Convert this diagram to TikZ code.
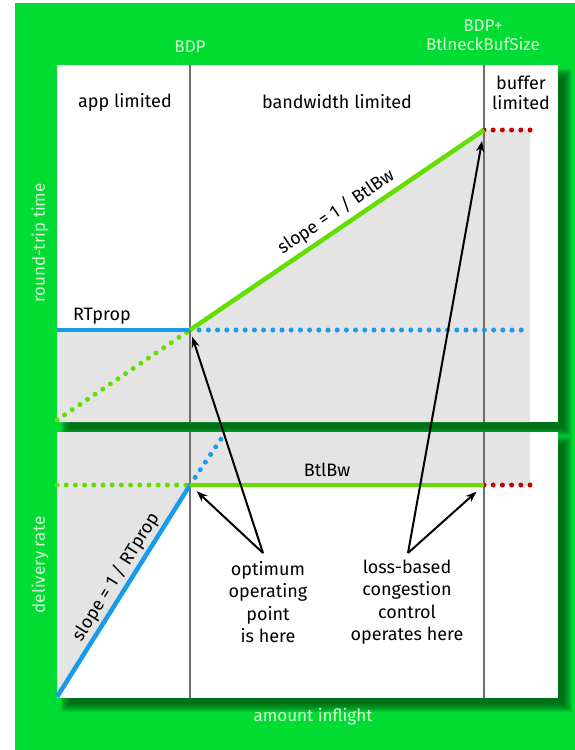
\documentclass[tikz,border=0pt]{standalone}
\usepackage{fontspec}
\setmainfont{Fira Sans}
\usetikzlibrary{arrows.meta}
\definecolor{bggreen}{RGB}{0,220,50}
\definecolor{shadowgreen}{RGB}{0,80,18}
\definecolor{panelgray}{RGB}{228,228,228}
\definecolor{curvegreen}{RGB}{100,222,0}
\definecolor{curveblue}{RGB}{25,155,235}
\definecolor{curvered}{RGB}{200,0,0}
\definecolor{axistext}{RGB}{215,248,215}
\definecolor{sepgray}{RGB}{110,110,110}

\begin{document}
\begin{tikzpicture}[x=1pt,y=-1pt,
  solidcurve/.style={line width=4.5pt},
  dotcurve/.style={line width=5pt, line cap=round, dash pattern=on 0pt off 9.2pt},
  separator/.style={sepgray, line width=1.6pt},
  pointer/.style={black, line width=2pt, -{Stealth[length=11pt,width=8pt]}},
  axislabel/.style={text=axistext, font=\fontsize{17}{19}\selectfont},
  plotlabel/.style={text=black, font=\fontsize{18}{20}\selectfont, align=center, inner sep=0pt},
]
\useasboundingbox (0,0) rectangle (575,750);
\fill[white] (0,0) rectangle (575,750);
\fill[bggreen] (15,3) rectangle (575,750);

% soft drop shadows under both panels
\foreach \r in {-4,...,5} {
  \fill[shadowgreen, opacity=0.13] ({66-\r},{74-\r}) rectangle ({567+\r},{431+\r});
  \fill[shadowgreen, opacity=0.13] ({66-\r},{441-\r}) rectangle ({567+\r},{707+\r});
}

% panels
\fill[white] (57,65) rectangle (558,422);
\fill[white] (57,432) rectangle (558,698);

% key points of the two curves
\coordinate (rtpL)   at (57,330);
\coordinate (opt1)   at (190,330);
\coordinate (buf1)   at (484,130);
\coordinate (redE1)  at (530,130);
\coordinate (blueE1) at (525,330);
\coordinate (orig1)  at (57,420);
\coordinate (bwL)    at (57,485);
\coordinate (opt2)   at (190,485);
\coordinate (buf2)   at (484,485);
\coordinate (redE2)  at (530,485);
\coordinate (orig2)  at (57,697);
\coordinate (blueE2) at (221,439);

% shaded regions
\fill[panelgray] (rtpL) -- (opt1) -- (buf1) -- (redE1) -- (530,422) -- (57,422) -- cycle;
\fill[panelgray] (57,432) -- (530,432) -- (redE2) -- (opt2) -- (orig2) -- cycle;

% region separators
\draw[separator] (190,65) -- (190,422);
\draw[separator] (484,65) -- (484,422);
\draw[separator] (190,432) -- (190,698);
\draw[separator] (484,432) -- (484,698);

% round-trip time curve
\draw[dotcurve, curvegreen] (orig1) -- (opt1);
\draw[dotcurve, curveblue] (opt1) -- (blueE1);
\draw[dotcurve, curvered] (buf1) -- (redE1);
\draw[solidcurve, curveblue] (rtpL) -- (opt1);
\draw[solidcurve, curvegreen] (opt1) -- (buf1);

% delivery rate curve
\draw[dotcurve, curvegreen] (bwL) -- (opt2);
\draw[dotcurve, curveblue] (opt2) -- (blueE2);
\draw[dotcurve, curvered] (buf2) -- (redE2);
\draw[solidcurve, curveblue] (orig2) -- (opt2);
\draw[solidcurve, curvegreen] (opt2) -- (buf2);

% labels on the green background
\node[axislabel] (bdp) at (190,47) {BDP};
\node[axislabel, align=center] (bdpbuf) at (483,35) {BDP+\\BtlneckBufSize};
\node[axislabel, rotate=90] (rttaxis) at (40,243) {round-trip time};
\node[axislabel, rotate=90] (rateaxis) at (40,565) {delivery rate};
\node[axislabel] (xaxis) at (313,717) {amount inflight};

% region and curve labels
\node[plotlabel] (applim) at (125,102) {app limited};
\node[plotlabel] (bwlim) at (337,102) {bandwidth limited};
\node[plotlabel] (buflim) at (521,93) {buffer\\limited};
\node[plotlabel] (rtprop) at (102,316) {RTprop};
\node[plotlabel] (btlbw) at (327,470) {BtlBw};
\node[plotlabel, rotate=34] (slopebw) at (336,212) {slope = 1 / BtlBw};
\node[plotlabel, rotate=58] (slopert) at (116,577) {slope = 1 / RTprop};

% callouts
\node[plotlabel, font=\fontsize{18}{22.5}\selectfont] (optlabel) at (268,602) {optimum\\operating\\point\\is here};
\node[plotlabel, font=\fontsize{18}{22.5}\selectfont] (losslabel) at (407,602) {loss-based\\congestion\\control\\operates here};
\coordinate (optApex) at (263,553);
\coordinate (lossApex) at (408,553);
\draw[pointer, shorten >=7pt] (optApex) -- (opt1);
\draw[pointer, shorten >=9pt] (optApex) -- (opt2);
\draw[pointer, shorten >=11pt] (lossApex) -- (buf1);
\draw[pointer, shorten >=10pt] (lossApex) -- (buf2);
\end{tikzpicture}
\end{document}
